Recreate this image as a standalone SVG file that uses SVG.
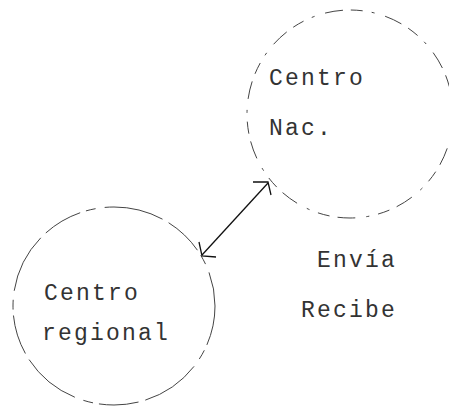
<svg xmlns="http://www.w3.org/2000/svg" width="449" height="407" viewBox="0 0 449 407">
<style>
.ring{fill:none;stroke:#444;stroke-width:1;stroke-dasharray:12 9 3 11 18 8}
.t{font-family:"Liberation Mono","Courier New",monospace;font-size:23px;fill:#333;letter-spacing:2.2px}
.conn{stroke:#111;stroke-width:1.3;fill:none}
</style>
<rect width="449" height="407" fill="#fff"/>
<g id="centro-nac">
<ellipse class="ring" cx="350" cy="114" rx="103" ry="104"/>
<text class="t" x="269" y="85">Centro</text>
<text class="t" x="269" y="135">Nac.</text>
</g>
<g id="centro-regional">
<ellipse class="ring" cx="114" cy="306" rx="101" ry="99" style="stroke-dasharray:40 6 10 9 60 7"/>
<text class="t" x="44" y="300">Centro</text>
<text class="t" x="42" y="340">regional</text>
</g>
<g id="labels">
<text class="t" x="317" y="267">Envía</text>
<text class="t" x="301" y="317">Recibe</text>
</g>
<g id="connectors">
<line class="conn" x1="268" y1="183" x2="202" y2="255"/>
<polyline class="conn" points="253,182 268,182 271,195"/>
<polyline class="conn" points="199,242 202,256 216,257"/>
</g>
</svg>
